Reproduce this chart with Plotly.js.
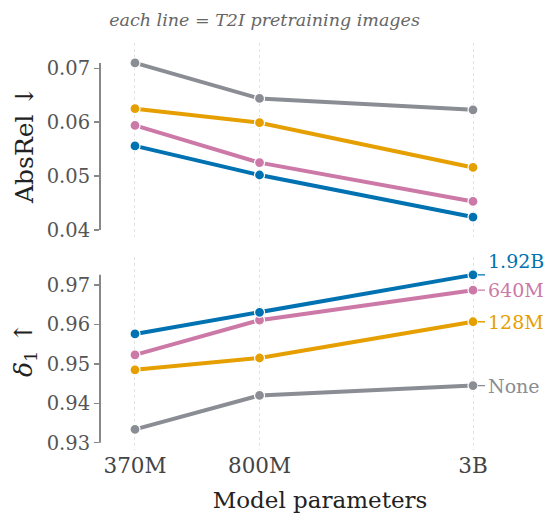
<!DOCTYPE html>
<html>
<head>
<meta charset="utf-8">
<script src="https://cdn.plot.ly/plotly-3.0.1.min.js"></script>
<style>html,body{margin:0;padding:0;background:#fff;}#chart{width:549px;height:513px;}</style>
</head>
<body>
<div id="chart"></div>
<script>
// ---- data ----
const modelLabels = ['370M', '800M', '3B'];
const modelParams = [370e6, 800e6, 3e9];
const seriesNames = ['None', '128M', '640M', '1.92B'];
const absRelNone = [0.0710, 0.0644, 0.0623];
const absRel128M = [0.0625, 0.0599, 0.0516];
const absRel640M = [0.0594, 0.0525, 0.0453];
const absRel192B = [0.0556, 0.0502, 0.0424];
const delta1None = [0.9334, 0.9420, 0.9445];
const delta1128M = [0.9485, 0.9515, 0.9607];
const delta1640M = [0.9523, 0.9611, 0.9687];
const delta1192B = [0.9576, 0.9631, 0.9726];
const absRelTicks = [0.04, 0.05, 0.06, 0.07];
const delta1Ticks = [0.93, 0.94, 0.95, 0.96, 0.97];

// ---- style ----
const colors = {'None': '#8a8d93', '128M': '#E69F00', '640M': '#CC79A7', '1.92B': '#0072B2'};
const absRel = {'None': absRelNone, '128M': absRel128M, '640M': absRel640M, '1.92B': absRel192B};
const delta1 = {'None': delta1None, '128M': delta1128M, '640M': delta1640M, '1.92B': delta1192B};
const serif = 'DejaVu Serif, serif';

const traces = [];
seriesNames.forEach(n => {
  const common = {
    x: modelParams, mode: 'lines+markers', name: n, showlegend: false,
    line: {color: colors[n], width: 4},
    marker: {color: colors[n], size: 10, line: {color: '#fff', width: 1.2}},
    hoverinfo: 'skip'
  };
  traces.push(Object.assign({}, common, {y: absRel[n], xaxis: 'x', yaxis: 'y'}));
  traces.push(Object.assign({}, common, {y: delta1[n], xaxis: 'x2', yaxis: 'y2'}));
});

const W = 549, H = 513;
const mL = 100, mR = 9, mT = 43, mB = 63;
const plotH = H - mT - mB;
const plotW = W - mL - mR;
const fy = px => (H - mB - px) / plotH;

const xr = [8.4741, 9.6573];
const xCommon = {
  type: 'log', range: xr, tickvals: modelParams, ticktext: modelLabels,
  showgrid: true, gridcolor: '#e2e2e2', griddash: 'dot', gridwidth: 1,
  zeroline: false, showline: false, ticks: '',
  tickfont: {family: serif, size: 21.5, color: '#444'}
};

const allAbs = [].concat(absRelNone, absRel128M, absRel640M, absRel192B);
const allDel = [].concat(delta1None, delta1128M, delta1640M, delta1192B);

const yCommon = {
  showgrid: false, zeroline: false, showline: false,
  ticks: 'outside', ticklen: 5, tickwidth: 1.5, tickcolor: '#888',
  tickfont: {family: serif, size: 19.5, color: '#555'}, ticklabelstandoff: 0
};

const annotations = [];
seriesNames.forEach(n => {
  const top = (n === '1.92B');
  annotations.push({
    x: Math.log10(modelParams[2]), y: delta1[n][2], xref: 'x2', yref: 'y2',
    text: n, showarrow: true, arrowhead: 0, arrowwidth: 1.3, arrowcolor: colors[n],
    ax: 12, ay: 0, xanchor: 'left', yanchor: top ? 'bottom' : 'middle', standoff: 5,
    borderpad: 2,
    font: {family: serif, size: 19, color: colors[n]}
  });
});
annotations.push({
  xref: 'paper', yref: 'paper', x: -76 / plotW, y: fy(145), xanchor: 'center', yanchor: 'middle',
  text: 'AbsRel ↓', textangle: -90, showarrow: false, font: {family: serif, size: 25, color: '#222'}
});
annotations.push({
  xref: 'paper', yref: 'paper', x: -75 / plotW, y: fy(350), xanchor: 'center', yanchor: 'middle',
  text: '<i>δ</i><sub>1</sub> ↑', textangle: -90, showarrow: false, font: {family: serif, size: 25, color: '#222'}
});

const shapes = [
  {type: 'line', xref: 'paper', yref: 'y', x0: 0, x1: 0, y0: absRelTicks[0], y1: Math.max(...allAbs), line: {color: '#888', width: 2}},
  {type: 'line', xref: 'paper', yref: 'y2', x0: 0, x1: 0, y0: delta1Ticks[0], y1: Math.max(...allDel), line: {color: '#888', width: 2}}
];

const layout = {
  width: W, height: H, margin: {l: mL, r: mR, t: mT, b: mB},
  paper_bgcolor: '#fff', plot_bgcolor: '#fff',
  title: {text: '<i>each line = T2I pretraining images</i>', xref: 'container', x: 264.5 / W, xanchor: 'center',
          yref: 'container', y: 1 - 20 / H, yanchor: 'middle', font: {family: serif, size: 17.5, color: '#666'}},
  xaxis: Object.assign({}, xCommon, {anchor: 'y', showticklabels: false, matches: 'x2'}),
  xaxis2: Object.assign({}, xCommon, {anchor: 'y2',
    title: {text: 'Model parameters', font: {family: serif, size: 23, color: '#222'}, standoff: 17}}),
  yaxis: Object.assign({}, yCommon, {domain: [fy(237), 1], range: [0.0387, 0.07469], tickvals: absRelTicks,
    ticktext: absRelTicks.map(v => v.toFixed(2))}),
  yaxis2: Object.assign({}, yCommon, {domain: [0, fy(257)], range: [0.92815, 0.97713], tickvals: delta1Ticks,
    ticktext: delta1Ticks.map(v => v.toFixed(2))}),
  annotations: annotations, shapes: shapes
};

Plotly.newPlot('chart', traces, layout, {displayModeBar: false, staticPlot: true});
</script>
</body>
</html>
